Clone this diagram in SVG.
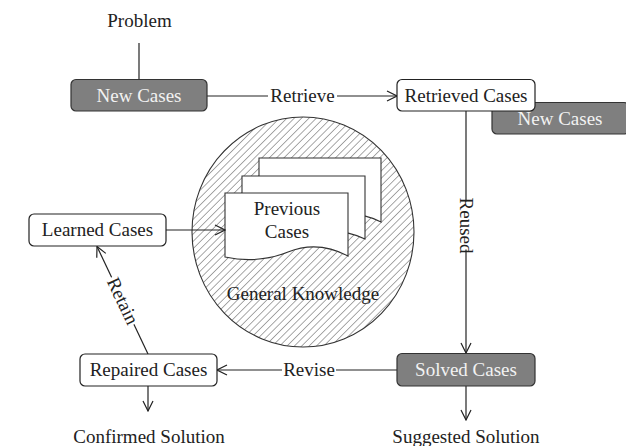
<svg xmlns="http://www.w3.org/2000/svg" width="626" height="446" viewBox="0 0 626 446">
<style>
text{font-family:"Liberation Serif","Times New Roman",serif;font-size:19px;fill:#222;text-anchor:middle}
.box{fill:#fff;stroke:#222;stroke-width:1.2}
.dark{fill:#7f7f7f;stroke:#333;stroke-width:1.2}
.dt{fill:#f2f2f2}
.ln{fill:none;stroke:#222;stroke-width:1.2}
.page{fill:#fff;stroke:#333;stroke-width:1.1}
</style>
<defs>
<pattern id="hatch" patternUnits="userSpaceOnUse" width="5.2" height="5.2" patternTransform="rotate(45)">
<rect width="5.2" height="5.2" fill="#fff"/>
<line x1="0" y1="0" x2="0" y2="5.2" stroke="#7a7a7a" stroke-width="1.3"/>
</pattern>
<marker id="arr" viewBox="0 0 12 12" refX="11" refY="6" markerWidth="12" markerHeight="12" markerUnits="userSpaceOnUse" orient="auto">
<path d="M1,1 L11,6 L1,11" fill="none" stroke="#222" stroke-width="1.2"/>
</marker>
</defs>

<g id="knowledge">
<ellipse cx="303" cy="232" rx="111" ry="115" fill="url(#hatch)" stroke="#333" stroke-width="1.1"/>
<text x="303" y="300" fill="#333">General Knowledge</text>
</g>

<g id="previous-cases">
<path class="page" d="M259,158 H381 V222 Q351,207 321,218 T259,222 Z"/>
<path class="page" d="M242,176 H365 V239 Q335,225 305,236 T242,240 Z"/>
<path class="page" d="M225,193 H348 V256 Q318,240 288,252 T225,257 Z"/>
<text x="287" y="215">Previous</text>
<text x="287" y="238">Cases</text>
</g>

<g id="connectors">
<line class="ln" x1="139" y1="43" x2="139" y2="79"/>
<line class="ln" x1="207" y1="96" x2="397" y2="96" marker-end="url(#arr)"/>
<line class="ln" x1="466" y1="111" x2="466" y2="353" marker-end="url(#arr)"/>
<line class="ln" x1="397" y1="370" x2="217" y2="370" marker-end="url(#arr)"/>
<line class="ln" x1="148" y1="354" x2="97" y2="246.5" marker-end="url(#arr)"/>
<line class="ln" x1="166" y1="230" x2="225" y2="230" marker-end="url(#arr)"/>
<line class="ln" x1="148" y1="386" x2="148" y2="411" marker-end="url(#arr)"/>
<line class="ln" x1="466" y1="386" x2="466" y2="420" marker-end="url(#arr)"/>
<rect x="268" y="86" width="69" height="20" fill="#fff"/>
<text x="302.5" y="101.5">Retrieve</text>
<rect x="282" y="360" width="54" height="20" fill="#fff"/>
<text x="309" y="376">Revise</text>
<g transform="translate(466,225.5) rotate(90)">
<rect x="-24" y="-8" width="48" height="16" fill="#fff"/>
<text x="0" y="6">Reused</text>
</g>
<g transform="translate(122.5,301) rotate(64.5)">
<rect x="-26" y="-8" width="52" height="16" fill="#fff"/>
<text x="0" y="6">Retain</text>
</g>
</g>

<g id="problem"><text x="139.5" y="27">Problem</text></g>

<g id="new-cases">
<rect class="dark" x="71" y="79.5" width="136" height="31.5" rx="5"/>
<text class="dt" x="139" y="101.5">New Cases</text>
</g>

<g id="new-cases-2">
<rect class="dark" x="492" y="102.5" width="137" height="31.5" rx="5"/>
<text class="dt" x="560" y="124.5">New Cases</text>
</g>

<g id="retrieved-cases">
<rect class="box" x="397" y="79.5" width="138" height="31.5" rx="5"/>
<text x="466" y="101.5">Retrieved Cases</text>
</g>

<g id="solved-cases">
<rect class="dark" x="397" y="353.5" width="138" height="32.5" rx="5"/>
<text class="dt" x="466" y="376">Solved Cases</text>
</g>

<g id="repaired-cases">
<rect class="box" x="80" y="354" width="137" height="32" rx="5"/>
<text x="148.5" y="376">Repaired Cases</text>
</g>

<g id="learned-cases">
<rect class="box" x="29" y="214" width="137" height="32" rx="5"/>
<text x="97.5" y="236">Learned Cases</text>
</g>

<g id="confirmed-solution"><text x="149" y="443">Confirmed Solution</text></g>
<g id="suggested-solution"><text x="466" y="443">Suggested Solution</text></g>
</svg>
